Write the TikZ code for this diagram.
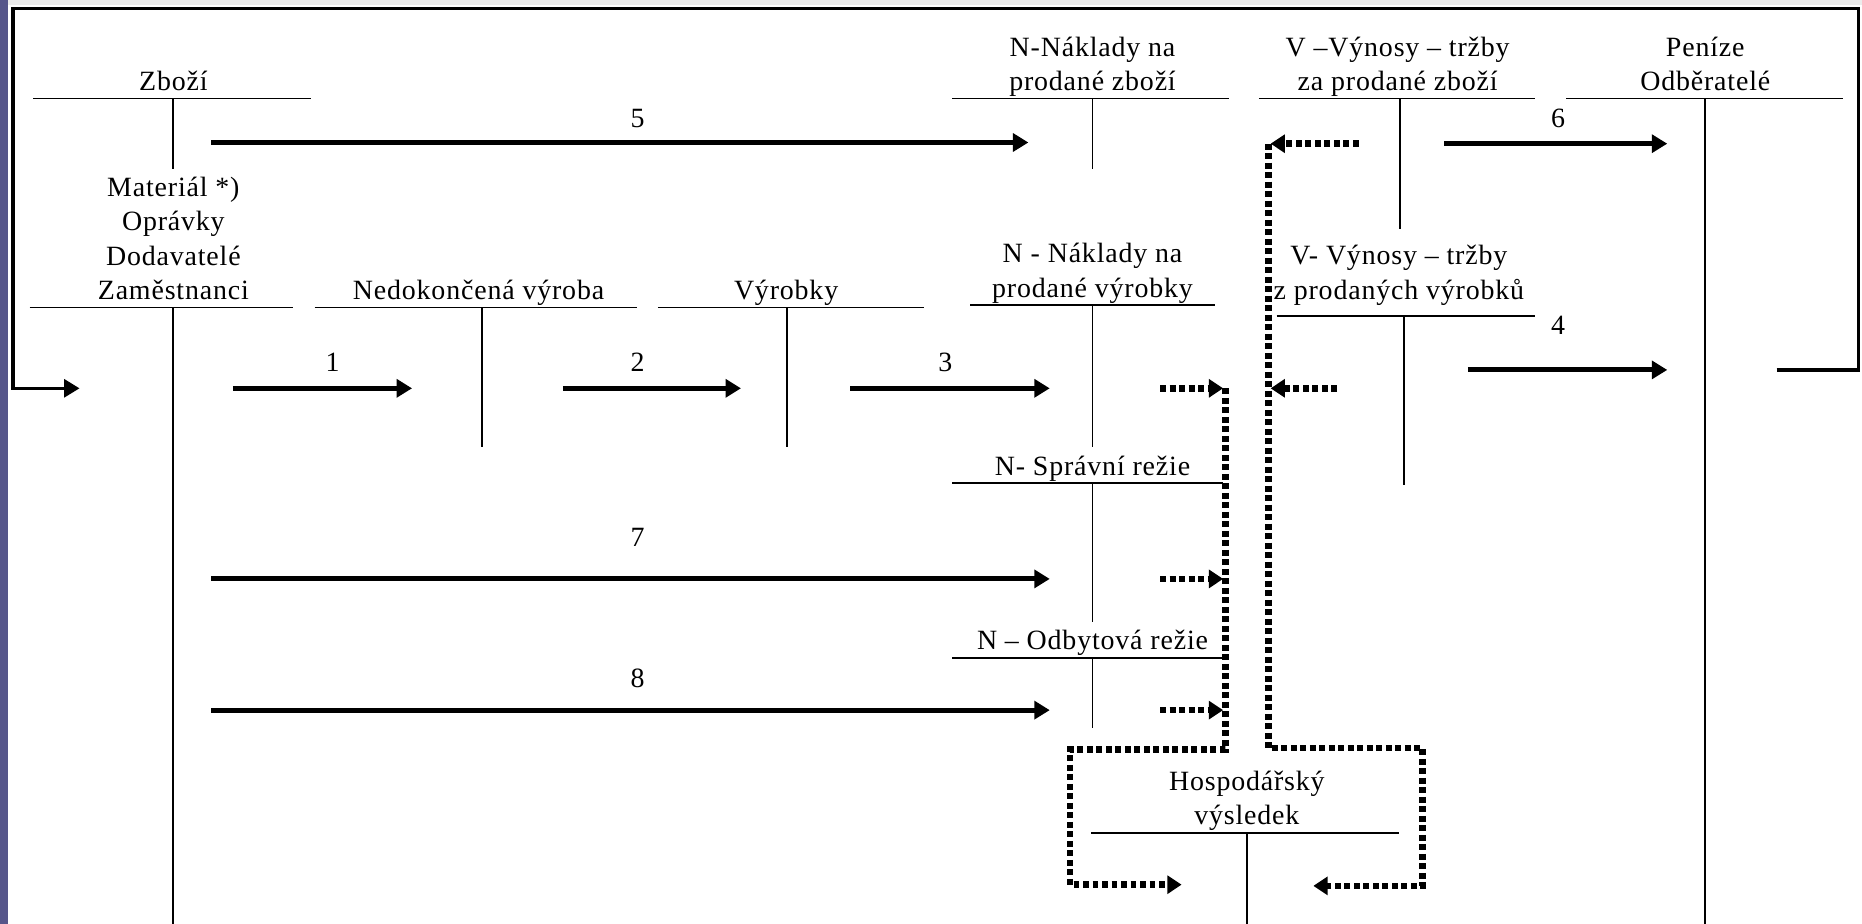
\documentclass[tikz,border=0pt]{standalone}
\usepackage{fontspec}
\setmainfont{Liberation Serif}[LetterSpace=3]
\usetikzlibrary{arrows.meta}
\definecolor{slideblue}{RGB}{86,86,138}
\definecolor{topgray}{RGB}{236,236,236}
\begin{document}
\begin{tikzpicture}[x=1pt,y=-1pt,
  lbl/.style={font=\fontsize{23.5}{29}\selectfont, align=center, anchor=south, inner sep=0pt, text depth=0pt},
  num/.style={font=\fontsize{23.5}{29}\selectfont, anchor=base, inner sep=0pt},
  acct/.style={line width=1.5pt},
  frame/.style={line width=2.8pt, line join=miter},
  arr/.style={line width=4.3pt, -{Triangle[length=13pt,width=15pt]}},
  dotl/.style={line width=5.6pt, dash pattern=on 5pt off 3pt, line join=miter},
  darr/.style={dotl, -{Triangle[length=12pt,width=15pt]}}
]
\useasboundingbox (0,0) rectangle (1568,778);
\fill[white] (0,0) rectangle (1568,778);
\fill[topgray] (6.5,0) rectangle (1568,4);
\fill[slideblue] (0,0) rectangle (6.5,778);

% ---------- account labels ----------
\node[lbl] (tZ)  at (146,76.5)  {Zboží};
\node[lbl] (tNZ) at (920,76.5)  {N-Náklady na\\prodané zboží};
\node[lbl] (tVZ) at (1177,76.5) {V –Výnosy – tržby\\za prodané zboží};
\node[lbl] (tP)  at (1436,76.5) {Peníze\\Odběratelé};
\node[lbl] (tM)  at (146,252.5) {Materiál *)\\Oprávky\\Dodavatelé\\Zaměstnanci};
\node[lbl] (tNV) at (403,252.5) {Nedokončená výroba};
\node[lbl] (tW)  at (662,252.5) {Výrobky};
\node[lbl] (tNP) at (920,250.5) {N - Náklady na\\prodané výrobky};
\node[lbl] (tVP) at (1178,252)  {V- Výnosy – tržby\\z prodaných výrobků};
\node[lbl] (tS)  at (920,400.5) {N- Správní režie};
\node[lbl] (tO)  at (920,547.5) {N – Odbytová režie};
\node[lbl] (tH)  at (1050,694.5) {Hospodářský\\výsledek};

% ---------- T-accounts ----------
\draw[acct] (28,83) -- (262,83) (146,83) -- (146,142);            % Zbozi
\draw[acct] (802,83) -- (1035,83) (920,83) -- (920,142);          % N zbozi
\draw[acct] (1060,83) -- (1293,83) (1179,83) -- (1179,193);       % V zbozi
\draw[acct] (1319,83) -- (1552,83) (1436,83) -- (1436,778);       % Penize
\draw[acct] (25,259) -- (247,259) (146,259) -- (146,778);         % Material
\draw[acct] (265,259) -- (536,259) (406,259) -- (406,376);        % Nedokoncena
\draw[acct] (554,259) -- (778,259) (662.5,259) -- (662.5,376);    % Vyrobky
\draw[acct] (817,257) -- (1023,257) (920,257) -- (920,376);       % N vyrobky
\draw[acct] (1075,266) -- (1293,266) (1182,266) -- (1182,408);    % V vyrobky
\draw[acct] (802,407) -- (1030,407) (920,407) -- (920,523.5);     % Spravni
\draw[acct] (802,554) -- (1030,554) (920,554) -- (920,613);       % Odbytova
\draw[acct] (919,701.6) -- (1178,701.6) (1050,701.6) -- (1050,778); % HV

% ---------- named end points ----------
\coordinate (a5s) at (178,120);   \coordinate (a5e) at (866,120);
\coordinate (a6s) at (1216,121);  \coordinate (a6e) at (1404,121);
\coordinate (a1s) at (196,327);   \coordinate (a1e) at (347,327);
\coordinate (a2s) at (474,327);   \coordinate (a2e) at (624,327);
\coordinate (a3s) at (716,327);   \coordinate (a3e) at (884,327);
\coordinate (a4s) at (1236,311.5);\coordinate (a4e) at (1404,311.5);
\coordinate (a7s) at (178,487.5); \coordinate (a7e) at (884,487.5);
\coordinate (a8s) at (178,598);   \coordinate (a8e) at (884,598);

\coordinate (f0) at (1496,311.5); \coordinate (f1) at (1565,311.5);
\coordinate (f2) at (1565,7);     \coordinate (f3) at (11,7);
\coordinate (f4) at (11,327);     \coordinate (f5) at (67,327);

\coordinate (dl3s) at (977,327);   \coordinate (dl3e) at (1030,327);
\coordinate (dl7s) at (977,487.5); \coordinate (dl7e) at (1030,487.5);
\coordinate (dl8s) at (977,598);   \coordinate (dl8e) at (1030,598);
\coordinate (L0) at (1032,327); \coordinate (L1) at (1032,631);
\coordinate (L2) at (901,631);  \coordinate (L3) at (901,745);
\coordinate (L4) at (995,745);

\coordinate (dr1s) at (1144,121); \coordinate (dr1e) at (1070,121);
\coordinate (dr4s) at (1126,327); \coordinate (dr4e) at (1070,327);
\coordinate (R0) at (1068,121); \coordinate (R1) at (1068,630);
\coordinate (R2) at (1198,630); \coordinate (R3) at (1198,746);
\coordinate (R4) at (1106,746);

% ---------- solid arrows ----------
\draw[arr] (a5s) -- (a5e);
\draw[arr] (a6s) -- (a6e);
\draw[arr] (a1s) -- (a1e);
\draw[arr] (a2s) -- (a2e);
\draw[arr] (a3s) -- (a3e);
\draw[arr] (a4s) -- (a4e);
\draw[arr] (a7s) -- (a7e);
\draw[arr] (a8s) -- (a8e);

% ---------- outer loop ----------
\draw[frame, -{Triangle[length=13pt,width=15pt]}] (f0) -- (f1) -- (f2) -- (f3) -- (f4) -- (f5);

% ---------- dotted transfers to result ----------
\draw[darr] (dl3s) -- (dl3e);
\draw[darr] (dl7s) -- (dl7e);
\draw[darr] (dl8s) -- (dl8e);
\draw[darr] (L0) -- (L1) -- (L2) -- (L3) -- (L4);

\draw[darr] (dr1s) -- (dr1e);
\draw[darr] (dr4s) -- (dr4e);
\draw[darr] (R0) -- (R1) -- (R2) -- (R3) -- (R4);

% ---------- numbers ----------
\node[num] (n5) at (537,107.5) {5};
\node[num] (n6) at (1312,107.5) {6};
\node[num] (n1) at (280,313) {1};
\node[num] (n2) at (537,313) {2};
\node[num] (n3) at (796,313) {3};
\node[num] (n4) at (1312,282) {4};
\node[num] (n7) at (537,460) {7};
\node[num] (n8) at (537,579) {8};
\end{tikzpicture}
\end{document}
